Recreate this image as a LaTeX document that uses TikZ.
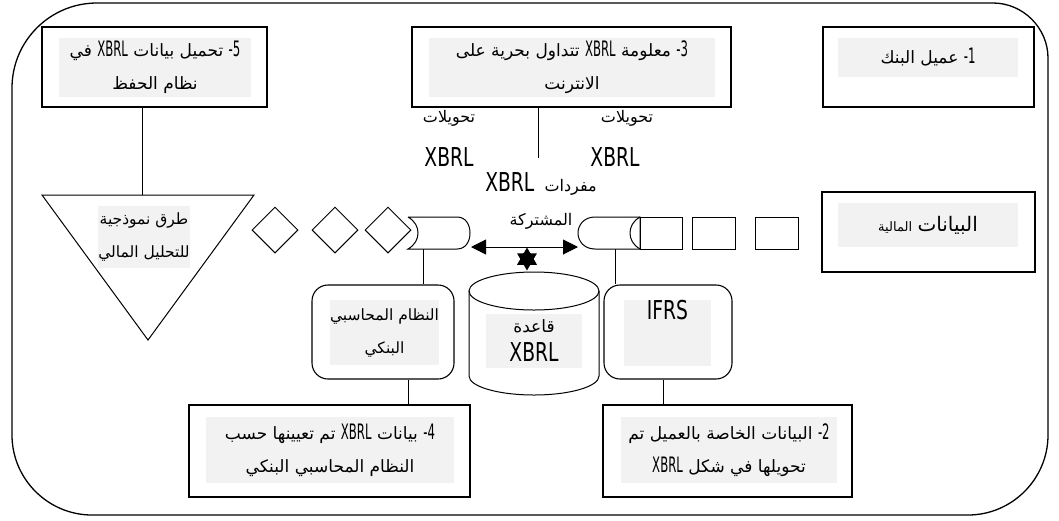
\documentclass[tikz,border=0pt]{standalone}
\usepackage{fontspec}
\usepackage{tikz}
\usetikzlibrary{shapes.geometric,arrows.meta}
\TeXXeTstate=1
\newfontfamily\arfont[Script=Arabic]{DejaVu Sans}
\newfontfamily\latfont[FakeStretch=0.55,Scale=1.25]{DejaVu Sans}
\newfontfamily\lblfont[FakeStretch=0.72]{DejaVu Sans}
\newcommand{\ar}[1]{{\arfont\beginR #1\endR}}
\newcommand{\xb}{{\latfont XBRL}}
\newcommand{\nm}[1]{{\latfont #1\kern0pt-}}
\newcommand{\lblbig}{\lblfont\fontsize{26}{28}\selectfont}

\begin{document}
\begin{tikzpicture}[x=1pt,y=-1pt,
	every node/.style={inner sep=0pt},
	box/.style={draw, line width=1.1pt},
	rbox/.style={draw, line width=1.1pt, rounded corners=16pt},
	txt/.style={fill=gray!10, align=center, font=\fontsize{17}{33}\selectfont},
	small/.style={font=\fontsize{15.5}{33}\selectfont},
	lbl/.style={font=\fontsize{16}{20}\selectfont},
	part/.style={draw, line width=1pt, fill=white},
	link/.style={line width=1pt}]
	\useasboundingbox (0,0) rectangle (1059,520);
	
	% outer frame
	\draw[line width=1.3pt] (12,88) .. controls (12,41) and (50,3) .. (97,3) -- (993,3)
		.. controls (1023,3) and (1048,28) .. (1048,58) -- (1048,435)
		.. controls (1048,479) and (1012,515) .. (968,515) -- (92,515)
		.. controls (48,515) and (12,479) .. (12,435) -- cycle;
	
	% top row
	\node[box, minimum width=225pt, minimum height=80pt] (b5) at (154.5,67) {};
	\node[txt, minimum width=192pt, minimum height=59pt] (b5t) at (155,67.5)
		{\ar{\nm{5} تحميل بيانات \xb{} في}\\ \ar{نظام الحفظ}};
	\node[box, minimum width=319pt, minimum height=80pt] (b3) at (571.5,67) {};
	\node[txt, minimum width=286pt, minimum height=59pt] (b3t) at (572,67.5)
		{\ar{\nm{3} معلومة \xb{} تتداول بحرية على}\\ \ar{الانترنت}};
	\node[box, minimum width=211pt, minimum height=80pt] (b1) at (928.5,67) {};
	\node[txt, minimum width=180pt, minimum height=39pt] (b1t) at (928,57.5)
		{\ar{\nm{1} عميل البنك}};
	
	% labels round the vocabulary
	\coordinate (vocab) at (538,158);
	\node[lbl] (tv1) at (449,118) {\ar{تحويلات}};
	\node[font=\lblbig] (tx1) at (449,157) {XBRL};
	\node[lbl] (tv2) at (627,118) {\ar{تحويلات}};
	\node[font=\lblbig] (tx2) at (615,157) {XBRL};
	\node[lbl] (voc) at (541,184) {\ar{مفردات\ \ {\lblbig XBRL}}};
	\node[lbl] (shr) at (541,221) {\ar{المشتركة}};
	\draw[link] (b3.south -| vocab) -- (vocab);
	
	% analysis triangle
	\draw[line width=1pt] (42,195) -- (254,195) -- (148,340) -- cycle;
	\coordinate (tritop) at (142,195);
	\node[txt, small, minimum width=88pt, minimum height=62pt] (trit) at (144,237)
		{\ar{طرق نموذجية}\\ \ar{للتحليل المالي}};
	\draw[link] (b5.south -| tritop) -- (tritop);
	
	% data stream
	\foreach \x in {275,335,388}
		\node[part, diamond, aspect=1, minimum size=46pt] at (\x,230) {};
	\draw[part] (408,217) -- (457,217) .. controls (466,217) and (470,225) .. (470,233)
		.. controls (470,241) and (466,249) .. (457,249) -- (408,249)
		.. controls (415,245) and (418,239) .. (418,233) .. controls (418,227) and (415,221) .. (408,217);
	\draw[part] (595,217) .. controls (584,217) and (578,225) .. (578,233)
		.. controls (578,241) and (584,249) .. (595,249) -- (640,249) -- (640,217) -- cycle;
	\draw[line width=1pt] (640,217) .. controls (633,221) and (630,227) .. (630,233)
		.. controls (630,239) and (633,245) .. (640,249);
	\foreach \x/\w in {661/42,713.5/43,776.5/43}
		\node[part, rectangle, minimum width=\w pt, minimum height=32pt] at (\x,233) {};
	\coordinate (lpend) at (471,247);
	\coordinate (rpend) at (578,247);
	\coordinate (lp) at (423,249);
	\coordinate (rp) at (615,249);
	\draw[link, {Triangle[length=15pt,width=15pt]}-{Triangle[length=15pt,width=15pt]}] (lpend) -- (rpend);
	\node[star, star points=6, star point ratio=1.73, fill, minimum size=23pt] (hub) at (527,259) {};
	
	\node[box, minimum width=213pt, minimum height=80pt] (fin) at (928.5,232) {};
	\node[txt, minimum width=180pt, minimum height=44pt] (fint) at (928,225)
		{\ar{{\fontsize{20}{20}\selectfont البيانات} {\fontsize{13}{14}\selectfont المالية}}};
	
	% XBRL base
	\draw[line width=1pt] (534,291) ellipse [x radius=65, y radius=19];
	\draw[line width=1pt] (469,291) -- (469,376) arc [start angle=180, end angle=0, x radius=65, y radius=19] -- (599,291);
	\node[txt, minimum width=96pt, minimum height=54pt] (cylt) at (534,341)
		{\ar{قاعدة}\\[-4pt] {\lblbig XBRL}};
	
	% systems
	\node[rbox, minimum width=142pt, minimum height=94pt] (nas) at (383,332) {};
	\node[txt, small, minimum width=107pt, minimum height=65pt] (nast) at (384.5,332.5)
		{\ar{النظام المحاسبي}\\ \ar{البنكي}};
	\node[rbox, minimum width=128pt, minimum height=94pt] (ifrs) at (668,332) {};
	\node[txt, minimum width=87pt, minimum height=66pt] (ifrst) at (667.5,333) {};
	\node[anchor=north, font=\lblbig] (ifrsl) at (ifrst.north) {IFRS};
	\draw[link] (lp) -- (lp |- nas.north);
	\draw[link] (rp) -- (rp |- ifrs.north);
	
	% bottom row
	\node[box, minimum width=281pt, minimum height=92pt] (b4) at (329.5,451) {};
	\node[txt, minimum width=248pt, minimum height=66pt] (b4t) at (330,450)
		{\ar{\nm{4} بيانات \xb{} تم تعيينها حسب}\\ \ar{النظام المحاسبي البنكي}};
	\node[box, minimum width=249pt, minimum height=92pt] (b2) at (727.5,451) {};
	\node[txt, minimum width=216pt, minimum height=66pt] (b2t) at (729,450)
		{\ar{\nm{2} البيانات الخاصة بالعميل تم}\\ \ar{تحويلها في شكل \xb}};
	\draw[link] ([xshift=25pt]nas.south) -- ([xshift=25pt]nas.south |- b4.north);
	\draw[link] ([xshift=-5pt]ifrs.south) -- ([xshift=-5pt]ifrs.south |- b2.north);
\end{tikzpicture}
\end{document}
